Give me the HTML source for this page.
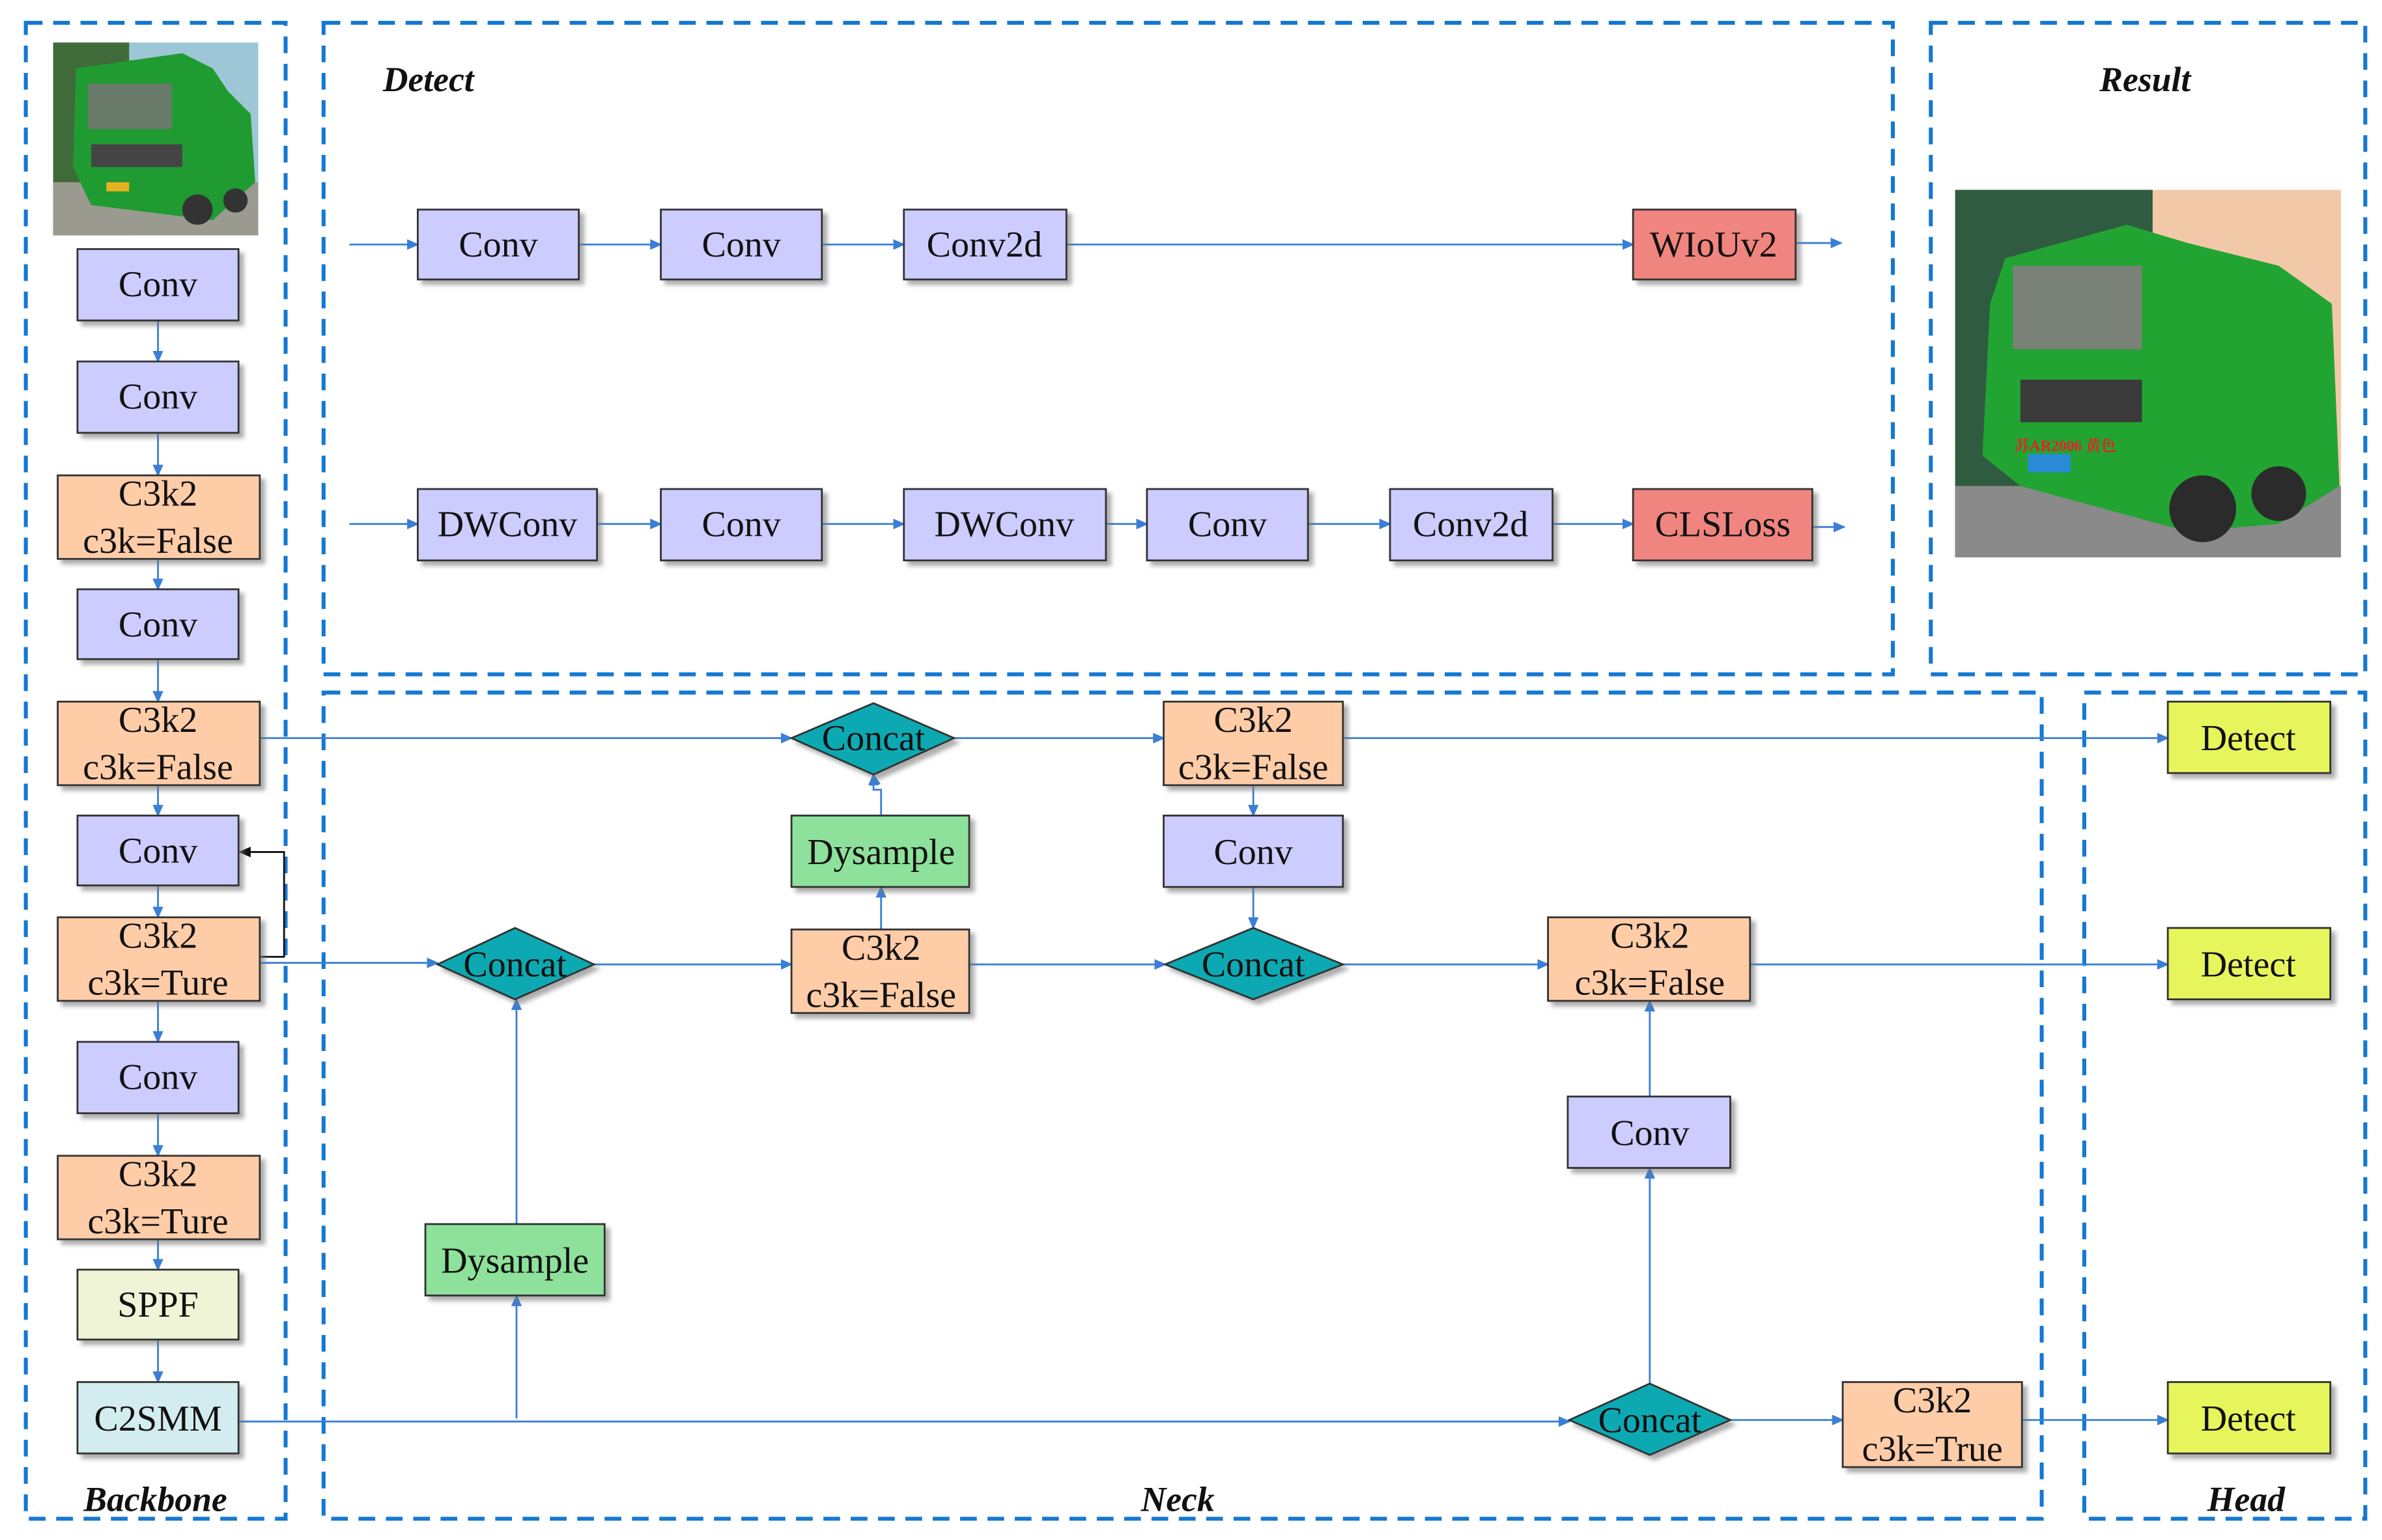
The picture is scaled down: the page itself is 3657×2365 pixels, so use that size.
<!DOCTYPE html>
<html><head><meta charset="utf-8"><style>
html,body{margin:0;padding:0;background:#fff}
svg{display:block}
text{font-family:"Liberation Serif","Noto Serif CJK SC",serif;fill:#111}
</style></head><body>
<svg width="3657" height="2365" viewBox="0 0 1568 1014" preserveAspectRatio="none" xmlns="http://www.w3.org/2000/svg">
<defs>
<marker id="a" markerWidth="8" markerHeight="8" refX="7" refY="4" orient="auto" markerUnits="userSpaceOnUse"><path d="M0,0.5 L8,4 L0,7.5 z" fill="#3a7fd5"/></marker>
<marker id="k" markerWidth="8" markerHeight="8" refX="7" refY="4" orient="auto" markerUnits="userSpaceOnUse"><path d="M0,0.5 L8,4 L0,7.5 z" fill="#111"/></marker>
<filter id="s" x="-10%" y="-10%" width="130%" height="140%"><feDropShadow dx="3" dy="3" stdDeviation="1.5" flood-color="#777" flood-opacity="0.6"/></filter>
</defs>
<!-- dashed group boxes -->
<g fill="none" stroke="#1478d2" stroke-width="2.6" stroke-dasharray="11 7">
<rect x="17" y="15" width="171" height="985"/>
<rect x="213" y="15" width="1033" height="429"/>
<rect x="1271" y="15" width="286" height="429"/>
<rect x="213" y="456" width="1131" height="544"/>
<rect x="1372" y="456" width="185" height="544"/>
</g>
<g font-style="italic" font-weight="bold" font-size="23">
<text x="252" y="60">Detect</text>
<text x="1382" y="60">Result</text>
<text x="55" y="995">Backbone</text>
<text x="751" y="995">Neck</text>
<text x="1453" y="995">Head</text>
</g>
<!-- small truck image -->
<g>
<rect x="35" y="28" width="135" height="127" fill="#9dc7d6"/>
<rect x="35" y="28" width="50" height="127" fill="#3f6a3a"/>
<rect x="35" y="120" width="135" height="35" fill="#9a9a90"/>
<path d="M50,45 L120,35 L140,45 L150,60 L165,75 L168,120 L140,145 L60,135 L48,110 Z" fill="#1f9b32"/>
<rect x="58" y="55" width="55" height="30" fill="#6a7a6a"/>
<rect x="60" y="95" width="60" height="15" fill="#444"/>
<circle cx="130" cy="138" r="10" fill="#333"/>
<circle cx="155" cy="132" r="8" fill="#333"/>
<rect x="70" y="120" width="15" height="6" fill="#e8b020"/>
</g>
<!-- result truck image -->
<g>
<rect x="1287" y="125" width="254" height="242" fill="#f2c9a8"/>
<rect x="1287" y="125" width="130" height="242" fill="#2f5c40"/>
<rect x="1287" y="320" width="254" height="47" fill="#8a8a8a"/>
<path d="M1320,170 L1400,148 L1440,160 L1500,175 L1535,200 L1540,320 L1500,345 L1440,350 L1330,320 L1305,300 L1310,200 Z" fill="#22a432"/>
<rect x="1325" y="175" width="85" height="55" fill="#7a8278"/>
<rect x="1330" y="250" width="80" height="28" fill="#3a3a3a"/>
<circle cx="1450" cy="335" r="22" fill="#2b2b2b"/>
<circle cx="1500" cy="325" r="18" fill="#2b2b2b"/>
<text x="1326" y="297" font-family="Liberation Sans,'Noto Sans CJK SC',sans-serif" font-size="10" font-weight="bold" style="fill:#e8202a">苏AR2006 黄色</text>
<rect x="1335" y="299" width="28" height="12" fill="#2a8ad8"/>
</g>
<!-- connectors -->
<g stroke="#3a7fd5" stroke-width="1.2" fill="none" marker-end="url(#a)">
<!-- detect rows -->
<line x1="230" y1="161" x2="275" y2="161"/><line x1="381" y1="161" x2="435" y2="161"/><line x1="541" y1="161" x2="595" y2="161"/><line x1="702" y1="161" x2="1075" y2="161"/><line x1="1182" y1="160" x2="1212" y2="160"/>
<line x1="230" y1="345" x2="275" y2="345"/><line x1="393" y1="345" x2="435" y2="345"/><line x1="541" y1="345" x2="595" y2="345"/><line x1="728" y1="345" x2="755" y2="345"/><line x1="861" y1="345" x2="915" y2="345"/><line x1="1022" y1="345" x2="1075" y2="345"/><line x1="1193" y1="347" x2="1214" y2="347"/>
<!-- backbone -->
<line x1="104" y1="211" x2="104" y2="238"/><line x1="104" y1="285" x2="104" y2="313"/><line x1="104" y1="368" x2="104" y2="388"/><line x1="104" y1="434" x2="104" y2="462"/><line x1="104" y1="517" x2="104" y2="537"/><line x1="104" y1="583" x2="104" y2="604"/><line x1="104" y1="659" x2="104" y2="686"/><line x1="104" y1="733" x2="104" y2="761"/><line x1="104" y1="816" x2="104" y2="836"/><line x1="104" y1="882" x2="104" y2="910"/>
<!-- neck -->
<line x1="171" y1="486" x2="521" y2="486"/>
<line x1="628" y1="486" x2="766" y2="486"/>
<line x1="884" y1="486" x2="1427" y2="486"/>
<line x1="825" y1="517" x2="825" y2="537"/>
<line x1="825" y1="584" x2="825" y2="611"/>
<line x1="171" y1="634" x2="288" y2="634"/>
<line x1="391" y1="635" x2="521" y2="635"/>
<line x1="580" y1="612" x2="580" y2="584"/>
<line x1="580" y1="537" x2="575" y2="510" stroke="none"/>
<polyline points="580,537 580,520 575,520 575,510"/>
<line x1="638" y1="635" x2="767" y2="635"/>
<line x1="884" y1="635" x2="1019" y2="635"/>
<line x1="1152" y1="635" x2="1427" y2="635"/>
<line x1="1086" y1="722" x2="1086" y2="659"/>
<line x1="1086" y1="911" x2="1086" y2="769"/>
<line x1="157" y1="936" x2="1033" y2="936"/>
<line x1="340" y1="934" x2="340" y2="853"/>
<line x1="340" y1="806" x2="340" y2="658"/>
<line x1="1139" y1="935" x2="1213" y2="935"/>
<line x1="1331" y1="935" x2="1427" y2="935"/>
</g>
<polyline points="171,630 187,630 187,561 158,561" fill="none" stroke="#111" stroke-width="1.2" marker-end="url(#k)"/>
<!-- boxes -->
<g stroke="#333" stroke-width="1.2" filter="url(#s)">
<!-- backbone -->
<rect x="51" y="164" width="106" height="47" fill="#ccccff"/>
<rect x="51" y="238" width="106" height="47" fill="#ccccff"/>
<rect x="38" y="313" width="133" height="55" fill="#ffcca8"/>
<rect x="51" y="388" width="106" height="46" fill="#ccccff"/>
<rect x="38" y="462" width="133" height="55" fill="#ffcca8"/>
<rect x="51" y="537" width="106" height="46" fill="#ccccff"/>
<rect x="38" y="604" width="133" height="55" fill="#ffcca8"/>
<rect x="51" y="686" width="106" height="47" fill="#ccccff"/>
<rect x="38" y="761" width="133" height="55" fill="#ffcca8"/>
<rect x="51" y="836" width="106" height="46" fill="#eff4d6"/>
<rect x="51" y="910" width="106" height="47" fill="#d3ecf0"/>
<!-- detect -->
<rect x="275" y="138" width="106" height="46" fill="#ccccff"/>
<rect x="435" y="138" width="106" height="46" fill="#ccccff"/>
<rect x="595" y="138" width="107" height="46" fill="#ccccff"/>
<rect x="1075" y="138" width="107" height="46" fill="#f0857f"/>
<rect x="275" y="322" width="118" height="47" fill="#ccccff"/>
<rect x="435" y="322" width="106" height="47" fill="#ccccff"/>
<rect x="595" y="322" width="133" height="47" fill="#ccccff"/>
<rect x="755" y="322" width="106" height="47" fill="#ccccff"/>
<rect x="915" y="322" width="107" height="47" fill="#ccccff"/>
<rect x="1075" y="322" width="118" height="47" fill="#f0857f"/>
<!-- neck -->
<polygon points="288,635 339,611 391,635 339,658" fill="#0aa9b2"/>
<polygon points="521,486 575,463 628,486 575,510" fill="#0aa9b2"/>
<polygon points="767,635 825,611 884,635 825,658" fill="#0aa9b2"/>
<polygon points="1033,935 1086,911 1139,935 1086,958" fill="#0aa9b2"/>
<rect x="280" y="806" width="118" height="47" fill="#8ee19a"/>
<rect x="521" y="537" width="117" height="47" fill="#8ee19a"/>
<rect x="521" y="612" width="117" height="55" fill="#ffcca8"/>
<rect x="766" y="462" width="118" height="55" fill="#ffcca8"/>
<rect x="766" y="537" width="118" height="47" fill="#ccccff"/>
<rect x="1019" y="604" width="133" height="55" fill="#ffcca8"/>
<rect x="1032" y="722" width="107" height="47" fill="#ccccff"/>
<rect x="1213" y="910" width="118" height="56" fill="#ffcca8"/>
<!-- head -->
<rect x="1427" y="462" width="107" height="47" fill="#e6f55c"/>
<rect x="1427" y="611" width="107" height="47" fill="#e6f55c"/>
<rect x="1427" y="910" width="107" height="47" fill="#e6f55c"/>
</g>
<!-- labels -->
<g font-size="24" text-anchor="middle">
<text x="104" y="195">Conv</text>
<text x="104" y="269">Conv</text>
<text x="104" y="333">C3k2</text><text x="104" y="364">c3k=False</text>
<text x="104" y="419">Conv</text>
<text x="104" y="482">C3k2</text><text x="104" y="513">c3k=False</text>
<text x="104" y="568">Conv</text>
<text x="104" y="624">C3k2</text><text x="104" y="655">c3k=Ture</text>
<text x="104" y="717">Conv</text>
<text x="104" y="781">C3k2</text><text x="104" y="812">c3k=Ture</text>
<text x="104" y="867">SPPF</text>
<text x="104" y="942">C2SMM</text>
<text x="328" y="169">Conv</text>
<text x="488" y="169">Conv</text>
<text x="648" y="169">Conv2d</text>
<text x="1128" y="169">WIoUv2</text>
<text x="334" y="353">DWConv</text>
<text x="488" y="353">Conv</text>
<text x="661" y="353">DWConv</text>
<text x="808" y="353">Conv</text>
<text x="968" y="353">Conv2d</text>
<text x="1134" y="353">CLSLoss</text>
<text x="339" y="643">Concat</text>
<text x="575" y="494">Concat</text>
<text x="825" y="643">Concat</text>
<text x="1086" y="943">Concat</text>
<text x="339" y="838">Dysample</text>
<text x="580" y="569">Dysample</text>
<text x="580" y="632">C3k2</text><text x="580" y="663">c3k=False</text>
<text x="825" y="482">C3k2</text><text x="825" y="513">c3k=False</text>
<text x="825" y="569">Conv</text>
<text x="1086" y="624">C3k2</text><text x="1086" y="655">c3k=False</text>
<text x="1086" y="754">Conv</text>
<text x="1272" y="930">C3k2</text><text x="1272" y="962">c3k=True</text>
<text x="1480" y="494">Detect</text>
<text x="1480" y="643">Detect</text>
<text x="1480" y="942">Detect</text>
</g>
</svg>
</body></html>
